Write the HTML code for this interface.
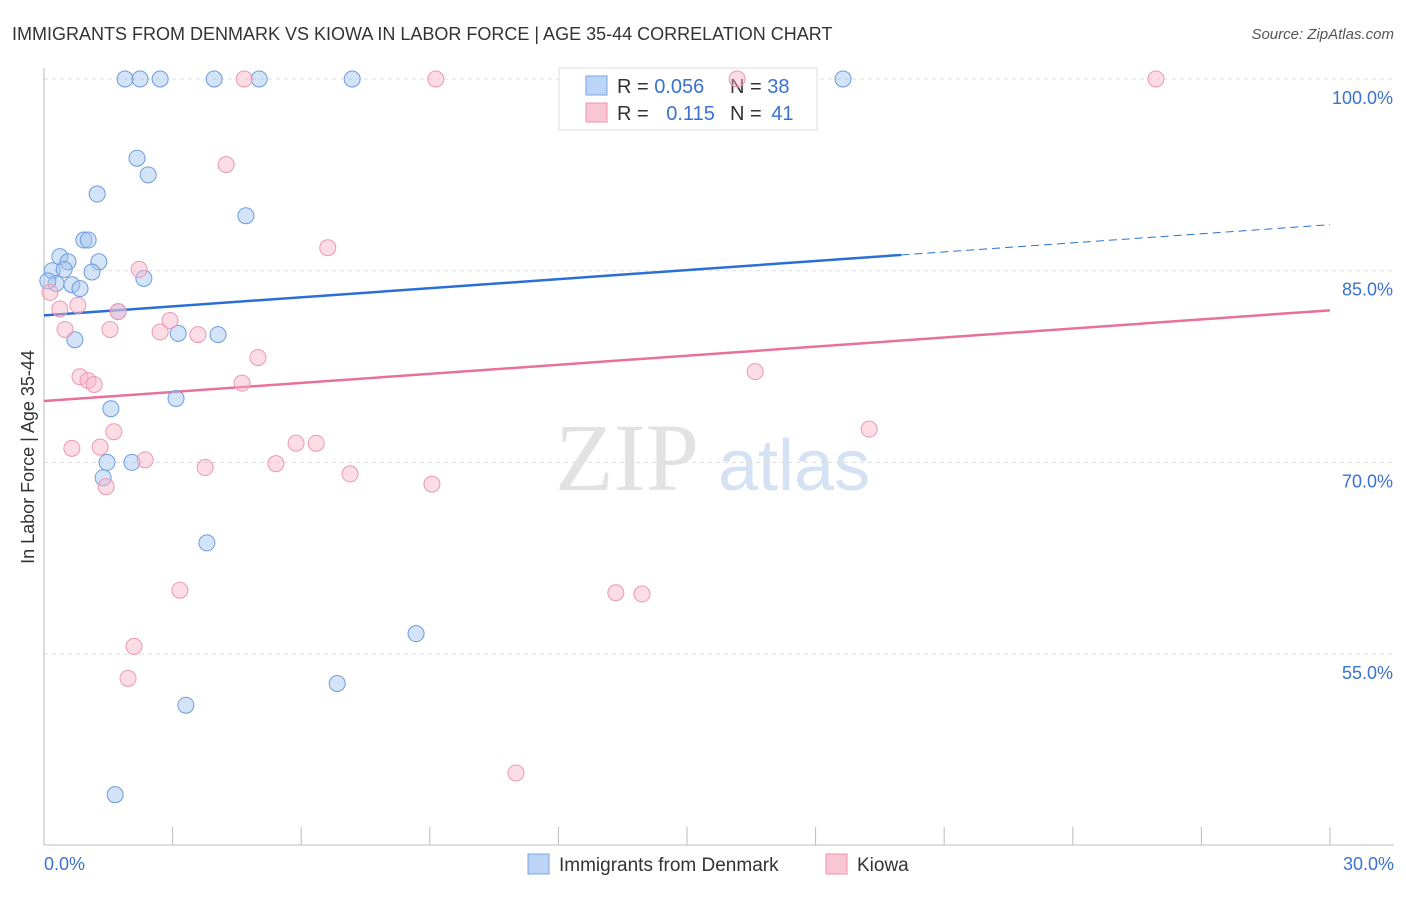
<!DOCTYPE html>
<html><head><meta charset="utf-8"><style>
body{margin:0;background:#fff;font-family:"Liberation Sans",sans-serif}
</style></head><body>
<svg id="c" width="1406" height="892" xmlns="http://www.w3.org/2000/svg">
<text x="12" y="40" font-size="18" fill="#333">IMMIGRANTS FROM DENMARK VS KIOWA IN LABOR FORCE | AGE 35-44 CORRELATION CHART</text>
<text x="1394" y="39" font-size="15" fill="#555" font-style="italic" text-anchor="end">Source: ZipAtlas.com</text>
<text x="555" y="490" font-size="96" fill="#e2e2e2" font-family="Liberation Serif,serif">ZIP</text>
<text x="718" y="490" font-size="72" fill="#d4e2f3">atlas</text>
<text transform="translate(34,457) rotate(-90)" font-size="18" fill="#333" text-anchor="middle">In Labor Force | Age 35-44</text>
<g id="grid"></g><g id="lines"></g>
<g>
<rect x="559" y="68" width="258" height="62" fill="#fff" stroke="#ddd"/>
<rect x="586" y="76" width="21" height="19" fill="#bcd4f5" stroke="#7aa5e0"/>
<rect x="586" y="103" width="21" height="19" fill="#f9c6d5" stroke="#ee93ae"/>
<text x="617" y="93" font-size="20" fill="#333">R = <tspan fill="#3a72d0">0.056</tspan></text>
<text x="730" y="93" font-size="20" fill="#333">N = <tspan fill="#3a72d0">38</tspan></text>
<text x="617" y="120" font-size="20" fill="#333">R = <tspan fill="#3a72d0" dx="12">0.115</tspan></text>
<text x="730" y="120" font-size="20" fill="#333">N = <tspan fill="#3a72d0" dx="4">41</tspan></text>
</g>
<g id="pts"></g>
<g>
<rect x="528" y="854" width="21" height="20" fill="#bcd4f5" stroke="#7aa5e0"/>
<text x="559" y="871" font-size="19" fill="#333">Immigrants from Denmark</text>
<rect x="826" y="854" width="21" height="20" fill="#f9c6d5" stroke="#ee93ae"/>
<text x="857" y="871" font-size="19" fill="#333">Kiowa</text>
</g>
</svg>
<script>
const blueX=[1.89,2.24,2.71,3.97,5.02,7.19,18.64,2.17,2.43,1.24,4.71,0.93,1.03,0.37,0.56,1.28,0.19,0.47,1.12,2.33,0.28,0.65,0.84,1.73,3.13,4.06,0.72,3.08,1.56,1.47,2.05,1.38,3.80,8.68,6.84,3.31,1.66,0.09];
const blueY=[100,100,100,100,100,100,100,93.8,92.5,91.0,89.3,87.4,87.4,86.1,85.7,85.7,85.0,85.1,84.9,84.4,84.0,83.9,83.6,81.8,80.1,80.0,79.6,75.0,74.2,70.0,70.0,68.8,63.7,56.6,52.7,51.0,44.0,84.2];
const pinkX=[4.67,9.14,16.17,25.94,4.25,6.62,2.22,0.14,0.37,0.79,1.73,0.49,1.54,2.71,2.94,3.59,4.99,0.84,1.03,1.17,4.62,16.59,19.25,1.63,0.65,1.31,5.88,6.35,2.36,3.76,5.41,7.14,1.45,9.05,3.17,13.34,13.95,2.10,1.96,11.01];
const pinkY=[100,100,100,100,93.3,86.8,85.1,83.3,82.0,82.3,81.8,80.4,80.4,80.2,81.1,80.0,78.2,76.7,76.4,76.1,76.2,77.1,72.6,72.4,71.1,71.2,71.5,71.5,70.2,69.6,69.9,69.1,68.1,68.3,60.0,59.8,59.7,55.6,53.1,45.7];
const blueTrend=[81.5,88.6], pinkTrend=[74.8,81.9];
const yTicks=[100,85,70,55];
const NS="http://www.w3.org/2000/svg";
const X=v=>44+v/30*1286, Y=v=>79+(100-v)*191.7/15;
function mk(t,a,p){const e=document.createElementNS(NS,t);for(const k in a)e.setAttribute(k,a[k]);p.appendChild(e);return e;}
const g=document.getElementById('grid');
yTicks.forEach(t=>{
 const l=mk('line',{x1:44,x2:1394,y1:Y(t),y2:Y(t),stroke:'#ddd','stroke-dasharray':'4,4'},g);
 
 
 const tx=mk('text',{x:1393,y:Y(t)+25,'font-size':18,fill:'#3a72d0','text-anchor':'end'},g);tx.textContent=t.toFixed(1)+'%';
 
 
});
mk('line',{x1:44,x2:44,y1:68,y2:845,stroke:'#bbb'},g);
mk('line',{x1:44,x2:1394,y1:845,y2:845,stroke:'#bbb'},g);
for(let i=1;i<=10;i++){const x=44+i*128.6;mk('line',{x1:x,x2:x,y1:827,y2:845,stroke:'#bbb'},g);}
let t1=mk('text',{x:44,y:870,'font-size':18,fill:'#3a72d0'},g);t1.textContent='0.0%';


let t2=mk('text',{x:1394,y:870,'font-size':18,fill:'#3a72d0','text-anchor':'end'},g);t2.textContent='30.0%';


const ln=document.getElementById('lines');
const bm=blueTrend[0]+(blueTrend[1]-blueTrend[0])*20/30;
let a=mk('line',{x1:X(0),y1:Y(blueTrend[0]),x2:X(20),y2:Y(bm),stroke:'#2a6fd6','stroke-width':2.5},ln);


let b=mk('line',{x1:X(20),y1:Y(bm),x2:X(30),y2:Y(blueTrend[1]),stroke:'#2a6fd6','stroke-width':1,'stroke-dasharray':'8,5'},ln);


let c=mk('line',{x1:X(0),y1:Y(pinkTrend[0]),x2:X(30),y2:Y(pinkTrend[1]),stroke:'#e8709a','stroke-width':2.5},ln);


const p=document.getElementById('pts');
blueX.forEach((v,i)=>{const e=mk('circle',{cx:X(v),cy:Y(blueY[i]),r:8,fill:'rgba(160,195,240,0.45)',stroke:'#6d9be0','stroke-width':1},p);
 
 });
pinkX.forEach((v,i)=>{const e=mk('circle',{cx:X(v),cy:Y(pinkY[i]),r:8,fill:'rgba(248,180,200,0.45)',stroke:'#ec98b3','stroke-width':1},p);
 
 });
</script>
</body></html>
